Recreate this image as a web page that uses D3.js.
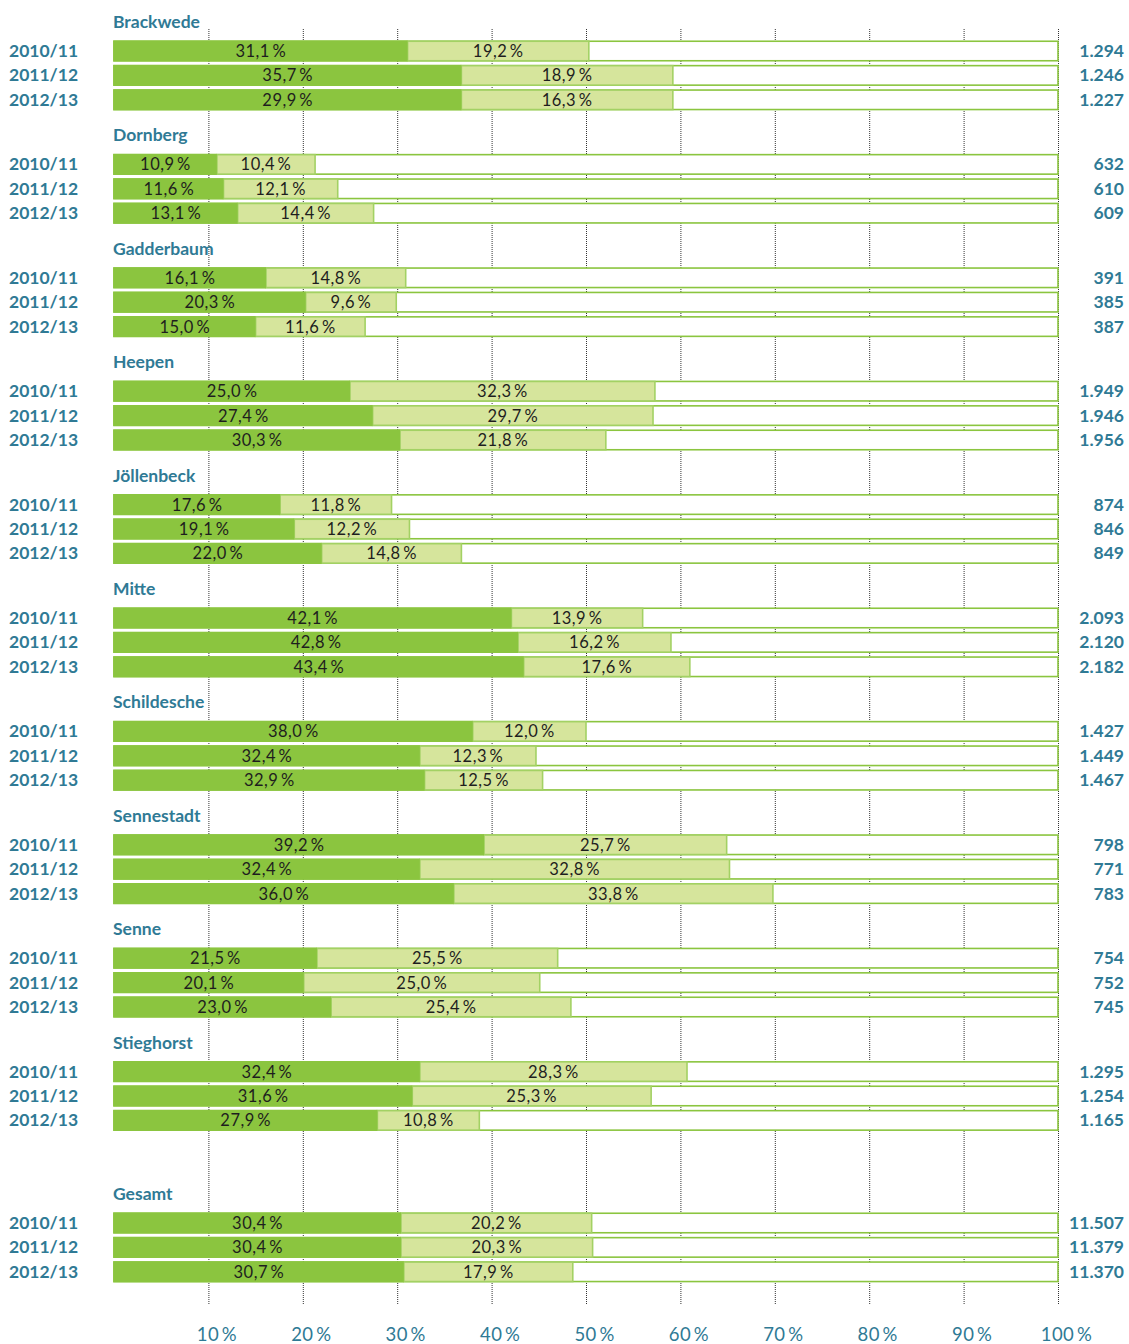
<!DOCTYPE html>
<html>
<head>
<meta charset="utf-8">
<script src="https://cdn.jsdelivr.net/npm/d3@7"></script>
<style>
  body { margin: 0; background: #fff; }
  svg { display: block; font-family: Lato, "Open Sans", sans-serif; }
</style>
</head>
<body>
<div id="chart"></div>
<script>
// data
const districts = ["Brackwede", "Dornberg", "Gadderbaum", "Heepen", "Jöllenbeck", "Mitte",
    "Schildesche", "Sennestadt", "Senne", "Stieghorst", "Gesamt"];
const years = ["2010/11", "2011/12", "2012/13"];

// dark segment (%)
const darkPct = [
    [31.1, 35.7, 29.9], [10.9, 11.6, 13.1], [16.1, 20.3, 15.0], [25.0, 27.4, 30.3],
    [17.6, 19.1, 22.0], [42.1, 42.8, 43.4], [38.0, 32.4, 32.9], [39.2, 32.4, 36.0],
    [21.5, 20.1, 23.0], [32.4, 31.6, 27.9], [30.4, 30.4, 30.7]
];
// light segment (%)
const lightPct = [
    [19.2, 18.9, 16.3], [10.4, 12.1, 14.4], [14.8, 9.6, 11.6], [32.3, 29.7, 21.8],
    [11.8, 12.2, 14.8], [13.9, 16.2, 17.6], [12.0, 12.3, 12.5], [25.7, 32.8, 33.8],
    [25.5, 25.0, 25.4], [28.3, 25.3, 10.8], [20.2, 20.3, 17.9]
];
// totals shown right of the bars
const totals = [
    ["1.294", "1.246", "1.227"], ["632", "610", "609"], ["391", "385", "387"],
    ["1.949", "1.946", "1.956"], ["874", "846", "849"], ["2.093", "2.120", "2.182"],
    ["1.427", "1.449", "1.467"], ["798", "771", "783"], ["754", "752", "745"],
    ["1.295", "1.254", "1.165"], ["11.507", "11.379", "11.370"]
];
// in the original, two Brackwede bars are drawn longer than their labels say
const brackwedeDrawnDark = [31.1, 36.8, 36.8];
const brackwedeDrawnLight = [19.2, 22.4, 22.4];

const tickValues = [10, 20, 30, 40, 50, 60, 70, 80, 90, 100];

const W = 1129, H = 1344;
const teal = "#2f7a95", dark = "#8bc53f", light = "#d6e59c", lightEdge = "#a3d164";

const fmt = v => v.toFixed(1).replace(".", ",") + "\u2009%";

const svg = d3.select("#chart").append("svg")
    .attr("width", W)
    .attr("height", H);

const x = d3.scaleLinear().domain([0, 100]).range([114, 1058]);

// vertical position of each group (Gesamt sits a bit further down)
const groupPos = d3.scaleLinear().domain([0, 1]).range([51, 164.4]);
const groupCenter = i => i < 10 ? groupPos(i) : groupPos(i) + 38;
const rowStep = 24.4, barH = 19.5;

// dotted gridlines
svg.append("g")
    .selectAll("line")
    .data(tickValues)
    .join("line")
    .attr("x1", d => x(d) + 0.5)
    .attr("x2", d => x(d) + 0.5)
    .attr("y1", 29)
    .attr("y2", 1305)
    .attr("stroke", "#333")
    .attr("stroke-width", 1)
    .attr("stroke-dasharray", "1,1");

// axis labels
const axis = svg.append("g")
    .attr("transform", `translate(0, ${1341})`)
    .call(d3.axisBottom(x).tickValues(tickValues).tickSize(0).tickFormat(d => d + "\u2009%"));
axis.select(".domain").remove();
axis.selectAll("text")
    .attr("y", 0)
    .attr("dy", 0)
    .attr("dx", 8)
    .attr("fill", teal)
    .style("font-size", "18.5px")
    .style("font-family", "Lato, sans-serif")
    .style("font-weight", 400)
    .style("letter-spacing", "0.4px");

districts.forEach((name, gi) => {
    const c0 = groupCenter(gi);
    const g = svg.append("g");

    g.append("text")
        .attr("x", 113)
        .attr("y", c0 - 23)
        .attr("fill", teal)
        .style("font-size", "17.5px")
        .style("font-weight", 700)
        .text(name);

    years.forEach((yr, ri) => {
        const cy = c0 + ri * rowStep;
        const top = cy - barH / 2;
        const dv = darkPct[gi][ri], lv = lightPct[gi][ri];
        const dDraw = gi === 0 ? brackwedeDrawnDark[ri] : dv;
        const lDraw = gi === 0 ? brackwedeDrawnLight[ri] : lv;

        // full 100 % frame
        g.append("rect")
            .attr("x", x(0))
            .attr("y", top)
            .attr("width", x(100) - x(0))
            .attr("height", barH)
            .attr("fill", "#fff")
            .attr("stroke", dark)
            .attr("stroke-width", 1.6);

        // light segment
        g.append("rect")
            .attr("x", x(dDraw))
            .attr("y", top)
            .attr("width", x(dDraw + lDraw) - x(dDraw))
            .attr("height", barH)
            .attr("fill", light)
            .attr("stroke", lightEdge)
            .attr("stroke-width", 1.6);

        // dark segment
        g.append("rect")
            .attr("x", x(0) - 0.8)
            .attr("y", top - 0.8)
            .attr("width", x(dDraw) - x(0) + 0.8)
            .attr("height", barH + 1.6)
            .attr("fill", dark);

        g.append("text")
            .attr("x", (x(0) + x(dDraw)) / 2)
            .attr("y", cy + 6)
            .attr("text-anchor", "middle")
            .attr("fill", "#1e1e1e")
            .style("font-size", "16.5px")
            .style("letter-spacing", "0.5px")
            .text(fmt(dv));

        g.append("text")
            .attr("x", (x(dDraw) + x(dDraw + lDraw)) / 2)
            .attr("y", cy + 6)
            .attr("text-anchor", "middle")
            .attr("fill", "#1e1e1e")
            .style("font-size", "16.5px")
            .style("letter-spacing", "0.5px")
            .text(fmt(lv));

        // year label left
        g.append("text")
            .attr("x", 9)
            .attr("y", cy + 6)
            .attr("fill", teal)
            .style("font-size", "17.5px")
            .style("font-weight", 700)
            .text(yr);

        // total right
        g.append("text")
            .attr("x", 1124)
            .attr("y", cy + 6)
            .attr("text-anchor", "end")
            .attr("fill", teal)
            .style("font-size", "17.5px")
            .style("font-weight", 700)
            .text(totals[gi][ri]);
    });
});
</script>
</body>
</html>
